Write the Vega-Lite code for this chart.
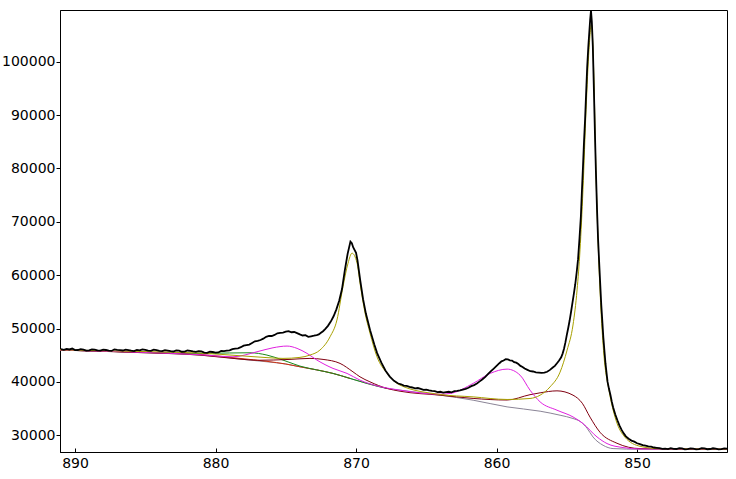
{
  "$schema": "https://vega.github.io/schema/vega-lite/v6.json",
  "width": 667,
  "height": 442,
  "autosize": {"type": "none"},
  "padding": {"left": 60, "top": 10, "right": 9, "bottom": 27},
  "background": "white",
  "config": {
    "view": {"stroke": "black", "strokeWidth": 1},
    "axis": {"grid": false, "domainColor": "black", "tickColor": "black", "labelColor": "black", "labelFont": "DejaVu Sans", "labelFontSize": 14, "titleFontSize": 0}
  },
  "datasets": {
    "comp": [
      {"s": "bg", "e": 891.07, "v": 45963},
      {"s": "bg", "e": 888.0, "v": 45750},
      {"s": "bg", "e": 885.38, "v": 45493},
      {"s": "bg", "e": 883.0, "v": 45280},
      {"s": "bg", "e": 881.11, "v": 45024},
      {"s": "bg", "e": 879.5, "v": 44650},
      {"s": "bg", "e": 878.26, "v": 44273},
      {"s": "bg", "e": 876.34, "v": 43766},
      {"s": "bg", "e": 875.0, "v": 43350},
      {"s": "bg", "e": 873.99, "v": 42827},
      {"s": "bg", "e": 872.8, "v": 42250},
      {"s": "bg", "e": 871.64, "v": 41587},
      {"s": "bg", "e": 870.43, "v": 40648},
      {"s": "bg", "e": 869.22, "v": 39709},
      {"s": "bg", "e": 867.8, "v": 38770},
      {"s": "bg", "e": 866.87, "v": 38451},
      {"s": "bg", "e": 865.5, "v": 38000},
      {"s": "bg", "e": 864.02, "v": 37512},
      {"s": "bg", "e": 861.67, "v": 36573},
      {"s": "bg", "e": 859.25, "v": 35315},
      {"s": "bg", "e": 856.9, "v": 34507},
      {"s": "bg", "e": 855.48, "v": 33756},
      {"s": "bg", "e": 854.56, "v": 33136},
      {"s": "bg", "e": 854.0, "v": 32500},
      {"s": "bg", "e": 853.56, "v": 31315},
      {"s": "bg", "e": 853.14, "v": 29681},
      {"s": "bg", "e": 852.42, "v": 28122},
      {"s": "bg", "e": 851.71, "v": 27502},
      {"s": "bg", "e": 849.79, "v": 27371},
      {"s": "bg", "e": 843.6, "v": 27371},

      {"s": "red", "e": 891.07, "v": 45963},
      {"s": "red", "e": 885.38, "v": 45560},
      {"s": "red", "e": 881.11, "v": 45150},
      {"s": "red", "e": 878.26, "v": 44400},
      {"s": "red", "e": 876.34, "v": 43850},
      {"s": "red", "e": 875.0, "v": 43350},
      {"s": "red", "e": 873.99, "v": 42827},
      {"s": "red", "e": 872.8, "v": 42250},
      {"s": "red", "e": 871.64, "v": 41587},
      {"s": "red", "e": 870.43, "v": 40648},

      {"s": "green", "e": 891.07, "v": 45963},
      {"s": "green", "e": 885.38, "v": 45560},
      {"s": "green", "e": 881.11, "v": 45343},
      {"s": "green", "e": 879.0, "v": 45420},
      {"s": "green", "e": 877.55, "v": 45456},
      {"s": "green", "e": 876.34, "v": 45024},
      {"s": "green", "e": 875.2, "v": 44085},
      {"s": "green", "e": 874.7, "v": 43615},
      {"s": "green", "e": 873.99, "v": 42958},
      {"s": "green", "e": 872.8, "v": 42250},
      {"s": "green", "e": 871.64, "v": 41587},
      {"s": "green", "e": 870.43, "v": 40648},
      {"s": "green", "e": 869.22, "v": 39709},
      {"s": "green", "e": 867.8, "v": 38770},

      {"s": "maroon", "e": 891.07, "v": 45963},
      {"s": "maroon", "e": 885.38, "v": 45493},
      {"s": "maroon", "e": 881.11, "v": 45024},
      {"s": "maroon", "e": 878.26, "v": 44273},
      {"s": "maroon", "e": 877.0, "v": 44050},
      {"s": "maroon", "e": 874.7, "v": 44216},
      {"s": "maroon", "e": 873.28, "v": 44404},
      {"s": "maroon", "e": 872.35, "v": 44216},
      {"s": "maroon", "e": 871.14, "v": 43465},
      {"s": "maroon", "e": 870.22, "v": 41888},
      {"s": "maroon", "e": 869.72, "v": 40949},
      {"s": "maroon", "e": 869.01, "v": 40010},
      {"s": "maroon", "e": 867.8, "v": 38770},
      {"s": "maroon", "e": 866.87, "v": 38250},
      {"s": "maroon", "e": 864.02, "v": 37512},
      {"s": "maroon", "e": 861.67, "v": 36900},
      {"s": "maroon", "e": 859.25, "v": 36600},
      {"s": "maroon", "e": 857.62, "v": 37600},
      {"s": "maroon", "e": 856.9, "v": 37950},
      {"s": "maroon", "e": 855.7, "v": 38320},
      {"s": "maroon", "e": 854.56, "v": 37512},
      {"s": "maroon", "e": 853.9, "v": 36000},
      {"s": "maroon", "e": 853.35, "v": 33400},
      {"s": "maroon", "e": 852.64, "v": 30563},
      {"s": "maroon", "e": 851.43, "v": 28498},
      {"s": "maroon", "e": 850.6, "v": 27750},
      {"s": "maroon", "e": 849.79, "v": 27500},
      {"s": "maroon", "e": 843.6, "v": 27371},

      {"s": "magenta", "e": 891.07, "v": 45963},
      {"s": "magenta", "e": 885.38, "v": 45550},
      {"s": "magenta", "e": 881.11, "v": 45100},
      {"s": "magenta", "e": 878.76, "v": 44705},
      {"s": "magenta", "e": 877.05, "v": 45644},
      {"s": "magenta", "e": 875.91, "v": 46395},
      {"s": "magenta", "e": 874.91, "v": 46714},
      {"s": "magenta", "e": 874.2, "v": 46283},
      {"s": "magenta", "e": 873.49, "v": 45343},
      {"s": "magenta", "e": 872.78, "v": 44085},
      {"s": "magenta", "e": 871.64, "v": 42527},
      {"s": "magenta", "e": 870.64, "v": 41587},
      {"s": "magenta", "e": 869.72, "v": 40329},
      {"s": "magenta", "e": 868.51, "v": 39258},
      {"s": "magenta", "e": 866.87, "v": 38451},
      {"s": "magenta", "e": 864.02, "v": 37700},
      {"s": "magenta", "e": 863.31, "v": 37831},
      {"s": "magenta", "e": 861.67, "v": 39709},
      {"s": "magenta", "e": 860.46, "v": 41587},
      {"s": "magenta", "e": 859.25, "v": 42395},
      {"s": "magenta", "e": 858.33, "v": 41268},
      {"s": "magenta", "e": 857.62, "v": 38451},
      {"s": "magenta", "e": 856.9, "v": 36254},
      {"s": "magenta", "e": 855.7, "v": 34695},
      {"s": "magenta", "e": 854.56, "v": 33437},
      {"s": "magenta", "e": 853.85, "v": 32197},
      {"s": "magenta", "e": 852.85, "v": 29681},
      {"s": "magenta", "e": 852.14, "v": 28441},
      {"s": "magenta", "e": 851.0, "v": 27690},
      {"s": "magenta", "e": 849.79, "v": 27427},
      {"s": "magenta", "e": 843.6, "v": 27371},

      {"s": "olive", "e": 891.07, "v": 46000},
      {"s": "olive", "e": 885.38, "v": 45700},
      {"s": "olive", "e": 881.11, "v": 45400},
      {"s": "olive", "e": 878.26, "v": 44900},
      {"s": "olive", "e": 876.34, "v": 44550},
      {"s": "olive", "e": 875.2, "v": 44404},
      {"s": "olive", "e": 873.99, "v": 44592},
      {"s": "olive", "e": 873.28, "v": 45024},
      {"s": "olive", "e": 872.57, "v": 45963},
      {"s": "olive", "e": 871.85, "v": 48460},
      {"s": "olive", "e": 871.36, "v": 51597},
      {"s": "olive", "e": 870.93, "v": 57851},
      {"s": "olive", "e": 870.57, "v": 62245},
      {"s": "olive", "e": 870.29, "v": 64123},
      {"s": "olive", "e": 869.93, "v": 62302},
      {"s": "olive", "e": 869.72, "v": 58546},
      {"s": "olive", "e": 869.36, "v": 52912},
      {"s": "olive", "e": 869.01, "v": 49156},
      {"s": "olive", "e": 868.51, "v": 44705},
      {"s": "olive", "e": 867.8, "v": 41644},
      {"s": "olive", "e": 866.87, "v": 39390},
      {"s": "olive", "e": 864.02, "v": 37643},
      {"s": "olive", "e": 861.67, "v": 37193},
      {"s": "olive", "e": 859.25, "v": 36704},
      {"s": "olive", "e": 857.62, "v": 36892},
      {"s": "olive", "e": 856.9, "v": 37512},
      {"s": "olive", "e": 856.19, "v": 39070},
      {"s": "olive", "e": 855.48, "v": 41832},
      {"s": "olive", "e": 854.98, "v": 45963},
      {"s": "olive", "e": 854.56, "v": 50658},
      {"s": "olive", "e": 854.27, "v": 57231},
      {"s": "olive", "e": 854.06, "v": 64743},
      {"s": "olive", "e": 853.85, "v": 76011},
      {"s": "olive", "e": 853.63, "v": 91035},
      {"s": "olive", "e": 853.42, "v": 102303},
      {"s": "olive", "e": 853.25, "v": 106998},
      {"s": "olive", "e": 853.07, "v": 96669},
      {"s": "olive", "e": 852.93, "v": 79767},
      {"s": "olive", "e": 852.78, "v": 66621},
      {"s": "olive", "e": 852.57, "v": 53475},
      {"s": "olive", "e": 852.36, "v": 45024},
      {"s": "olive", "e": 852.0, "v": 38451},
      {"s": "olive", "e": 851.5, "v": 32817},
      {"s": "olive", "e": 850.86, "v": 29624},
      {"s": "olive", "e": 849.79, "v": 27934},
      {"s": "olive", "e": 848.37, "v": 27465},
      {"s": "olive", "e": 843.6, "v": 27400}
    ],
    "raw": [
      {"e": 891.0, "v": 46150}, {"e": 890.8, "v": 46020}, {"e": 890.6, "v": 46200}, {"e": 890.4, "v": 46080}, {"e": 890.2, "v": 46250}, {"e": 890.0, "v": 45950}, {"e": 889.8, "v": 45980},
      {"e": 889.6, "v": 46150}, {"e": 889.4, "v": 46050}, {"e": 889.2, "v": 45850}, {"e": 889.0, "v": 45900}, {"e": 888.8, "v": 46100}, {"e": 888.6, "v": 46050}, {"e": 888.4, "v": 45900}, {"e": 888.2, "v": 45850},
      {"e": 888.0, "v": 46050}, {"e": 887.8, "v": 45980}, {"e": 887.6, "v": 45850}, {"e": 887.4, "v": 45800}, {"e": 887.2, "v": 46100}, {"e": 887.0, "v": 46000}, {"e": 886.8, "v": 45950}, {"e": 886.6, "v": 45880},
      {"e": 886.4, "v": 46050}, {"e": 886.2, "v": 45950}, {"e": 886.0, "v": 45850}, {"e": 885.8, "v": 45780}, {"e": 885.6, "v": 46000}, {"e": 885.4, "v": 45900}, {"e": 885.2, "v": 46100}, {"e": 885.0, "v": 46000},
      {"e": 884.8, "v": 45850}, {"e": 884.6, "v": 45820}, {"e": 884.4, "v": 46050}, {"e": 884.2, "v": 45950}, {"e": 884.0, "v": 45800}, {"e": 883.8, "v": 45780}, {"e": 883.6, "v": 45950}, {"e": 883.4, "v": 45880},
      {"e": 883.2, "v": 45750}, {"e": 883.0, "v": 45700}, {"e": 882.8, "v": 45900}, {"e": 882.6, "v": 45850}, {"e": 882.4, "v": 45650}, {"e": 882.2, "v": 45680}, {"e": 882.0, "v": 45880}, {"e": 881.8, "v": 45800},
      {"e": 881.6, "v": 45700}, {"e": 881.4, "v": 45620}, {"e": 881.2, "v": 45780}, {"e": 881.0, "v": 45700}, {"e": 880.8, "v": 45500}, {"e": 880.6, "v": 45450}, {"e": 880.4, "v": 45650}, {"e": 880.2, "v": 45600},
      {"e": 880.0, "v": 45480}, {"e": 879.8, "v": 45520}, {"e": 879.6, "v": 45800}, {"e": 879.4, "v": 45750}, {"e": 879.2, "v": 45850}, {"e": 879.0, "v": 45900}, {"e": 878.8, "v": 46150}, {"e": 878.6, "v": 46250},
      {"e": 878.4, "v": 46300}, {"e": 878.2, "v": 46500}, {"e": 878.0, "v": 46800}, {"e": 877.8, "v": 46900}, {"e": 877.6, "v": 47000}, {"e": 877.4, "v": 47300}, {"e": 877.2, "v": 47600}, {"e": 877.0, "v": 47700},
      {"e": 876.8, "v": 47850}, {"e": 876.6, "v": 48100}, {"e": 876.4, "v": 48450}, {"e": 876.2, "v": 48600}, {"e": 876.0, "v": 48600}, {"e": 875.8, "v": 48800}, {"e": 875.6, "v": 49100}, {"e": 875.4, "v": 49200},
      {"e": 875.2, "v": 49250}, {"e": 875.0, "v": 49400}, {"e": 874.8, "v": 49500}, {"e": 874.6, "v": 49300}, {"e": 874.4, "v": 49350}, {"e": 874.2, "v": 49150}, {"e": 874.0, "v": 48900}, {"e": 873.8, "v": 48700},
      {"e": 873.6, "v": 48750}, {"e": 873.4, "v": 48450}, {"e": 873.2, "v": 48550}, {"e": 873.0, "v": 48650}, {"e": 872.8, "v": 48780}, {"e": 872.65, "v": 48900}, {"e": 872.5, "v": 49200},
      {"e": 872.35, "v": 49500}, {"e": 872.2, "v": 49900}, {"e": 872.0, "v": 50500}, {"e": 871.8, "v": 51300}, {"e": 871.6, "v": 52300},
      {"e": 871.4, "v": 53600}, {"e": 871.2, "v": 55200}, {"e": 871.0, "v": 57400}, {"e": 870.8, "v": 60900},
      {"e": 870.6, "v": 64000}, {"e": 870.4, "v": 66300}, {"e": 870.3, "v": 66000}, {"e": 870.2, "v": 65200},
      {"e": 870.0, "v": 64200}, {"e": 869.9, "v": 62800}, {"e": 869.7, "v": 59000}, {"e": 869.5, "v": 55500},
      {"e": 869.3, "v": 52800}, {"e": 869.0, "v": 49700}, {"e": 868.7, "v": 47000}, {"e": 868.5, "v": 45400},
      {"e": 868.2, "v": 43600}, {"e": 867.9, "v": 42100}, {"e": 867.6, "v": 41000}, {"e": 867.3, "v": 40200},
      {"e": 867.0, "v": 39700}, {"e": 866.8, "v": 39550}, {"e": 866.6, "v": 39300}, {"e": 866.4, "v": 39250}, {"e": 866.2, "v": 39050}, {"e": 866.0, "v": 38950}, {"e": 865.8, "v": 38800},
      {"e": 865.6, "v": 38850}, {"e": 865.4, "v": 38700}, {"e": 865.2, "v": 38500}, {"e": 865.0, "v": 38550}, {"e": 864.8, "v": 38400}, {"e": 864.6, "v": 38300}, {"e": 864.4, "v": 38250}, {"e": 864.2, "v": 38100},
      {"e": 864.0, "v": 38150}, {"e": 863.8, "v": 38000}, {"e": 863.6, "v": 38100}, {"e": 863.4, "v": 38150}, {"e": 863.2, "v": 38050}, {"e": 863.0, "v": 38250}, {"e": 862.8, "v": 38300}, {"e": 862.6, "v": 38400},
      {"e": 862.4, "v": 38550}, {"e": 862.2, "v": 38700}, {"e": 862.0, "v": 38900}, {"e": 861.8, "v": 39200}, {"e": 861.6, "v": 39400}, {"e": 861.4, "v": 39700}, {"e": 861.2, "v": 40100}, {"e": 861.0, "v": 40500},
      {"e": 860.8, "v": 40950}, {"e": 860.6, "v": 41500}, {"e": 860.4, "v": 42000}, {"e": 860.2, "v": 42500}, {"e": 860.0, "v": 43000}, {"e": 859.8, "v": 43500}, {"e": 859.65, "v": 43850}, {"e": 859.5, "v": 44000},
      {"e": 859.35, "v": 44250}, {"e": 859.2, "v": 44200}, {"e": 859.05, "v": 44050}, {"e": 858.9, "v": 44000}, {"e": 858.75, "v": 43700}, {"e": 858.6, "v": 43600}, {"e": 858.45, "v": 43350}, {"e": 858.3, "v": 43000},
      {"e": 858.15, "v": 42800}, {"e": 858.0, "v": 42500}, {"e": 857.8, "v": 42250}, {"e": 857.6, "v": 42000}, {"e": 857.4, "v": 41950}, {"e": 857.2, "v": 41800}, {"e": 857.0, "v": 41750}, {"e": 856.8, "v": 41700},
      {"e": 856.6, "v": 41750}, {"e": 856.4, "v": 41900}, {"e": 856.2, "v": 42250}, {"e": 856.0, "v": 42700}, {"e": 855.85, "v": 43000}, {"e": 855.7, "v": 43500}, {"e": 855.55, "v": 44000}, {"e": 855.4, "v": 44600},
      {"e": 855.3, "v": 45300}, {"e": 855.2, "v": 46200}, {"e": 855.1, "v": 47400}, {"e": 855.0, "v": 48800}, {"e": 854.9, "v": 50100}, {"e": 854.8, "v": 51500}, {"e": 854.7, "v": 53100}, {"e": 854.6, "v": 54800},
      {"e": 854.5, "v": 56500}, {"e": 854.4, "v": 58300}, {"e": 854.3, "v": 60500}, {"e": 854.2, "v": 63000}, {"e": 854.1, "v": 66800}, {"e": 854.0, "v": 71000}, {"e": 853.93, "v": 75500}, {"e": 853.85, "v": 80300},
      {"e": 853.78, "v": 84800}, {"e": 853.7, "v": 89200}, {"e": 853.62, "v": 94500}, {"e": 853.55, "v": 99000}, {"e": 853.47, "v": 102800}, {"e": 853.4, "v": 105500}, {"e": 853.34, "v": 107800}, {"e": 853.28, "v": 109600},
      {"e": 853.22, "v": 107500}, {"e": 853.15, "v": 103000}, {"e": 853.08, "v": 95500}, {"e": 853.0, "v": 86700}, {"e": 852.93, "v": 79500}, {"e": 852.85, "v": 72300}, {"e": 852.78, "v": 67000}, {"e": 852.7, "v": 62500},
      {"e": 852.62, "v": 58200}, {"e": 852.55, "v": 54500}, {"e": 852.47, "v": 51200}, {"e": 852.4, "v": 48300}, {"e": 852.32, "v": 45700}, {"e": 852.25, "v": 43500}, {"e": 852.17, "v": 41600}, {"e": 852.1, "v": 40000},
      {"e": 852.0, "v": 38700}, {"e": 851.9, "v": 37600}, {"e": 851.8, "v": 36300}, {"e": 851.7, "v": 35200}, {"e": 851.55, "v": 33900}, {"e": 851.4, "v": 32800}, {"e": 851.25, "v": 31800}, {"e": 851.1, "v": 31000},
      {"e": 850.95, "v": 30350}, {"e": 850.8, "v": 29800}, {"e": 850.6, "v": 29350}, {"e": 850.4, "v": 29000}, {"e": 850.2, "v": 28800}, {"e": 850.0, "v": 28500}, {"e": 849.8, "v": 28350}, {"e": 849.6, "v": 28150},
      {"e": 849.4, "v": 28050}, {"e": 849.2, "v": 27900}, {"e": 849.0, "v": 27850}, {"e": 848.8, "v": 27700}, {"e": 848.6, "v": 27650}, {"e": 848.4, "v": 27600}, {"e": 848.2, "v": 27450}, {"e": 848.0, "v": 27500},
      {"e": 847.8, "v": 27400}, {"e": 847.6, "v": 27580}, {"e": 847.4, "v": 27450}, {"e": 847.2, "v": 27420}, {"e": 847.0, "v": 27600}, {"e": 846.8, "v": 27520}, {"e": 846.6, "v": 27350}, {"e": 846.4, "v": 27380},
      {"e": 846.2, "v": 27550}, {"e": 846.0, "v": 27480}, {"e": 845.8, "v": 27350}, {"e": 845.6, "v": 27400}, {"e": 845.4, "v": 27600}, {"e": 845.2, "v": 27550}, {"e": 845.0, "v": 27380}, {"e": 844.8, "v": 27420},
      {"e": 844.6, "v": 27560}, {"e": 844.4, "v": 27500}, {"e": 844.2, "v": 27350}, {"e": 844.0, "v": 27380}, {"e": 843.8, "v": 27520}, {"e": 843.6, "v": 27480}
    ]
  },
  "encoding": {
    "x": {
      "field": "e", "type": "quantitative", "title": null,
      "scale": {"domain": [843.6, 891.07], "reverse": true, "nice": false, "zero": false},
      "axis": {"values": [890, 880, 870, 860, 850], "format": "d", "tickSize": -4, "labelPadding": 8, "domain": true}
    },
    "y": {
      "field": "v", "type": "quantitative", "title": null,
      "scale": {"domain": [26860, 109700], "nice": false, "zero": false},
      "axis": {"values": [30000, 40000, 50000, 60000, 70000, 80000, 90000, 100000], "format": "d", "tickSize": 4, "labelPadding": 1}
    }
  },
  "layer": [
    {
      "data": {"name": "comp"},
      "mark": {"type": "line", "strokeWidth": 1, "clip": true, "interpolate": "monotone"},
      "encoding": {
        "color": {
          "field": "s", "type": "nominal", "legend": null,
          "scale": {"domain": ["bg", "red", "green", "maroon", "magenta", "olive"], "range": ["#8a8496", "#d03010", "#1a8a1a", "#800010", "#e020e0", "#a8a000"]}
        }
      }
    },
    {
      "data": {"name": "raw"},
      "mark": {"type": "line", "strokeWidth": 1.8, "color": "black", "clip": true},
      "encoding": {}
    }
  ]
}
